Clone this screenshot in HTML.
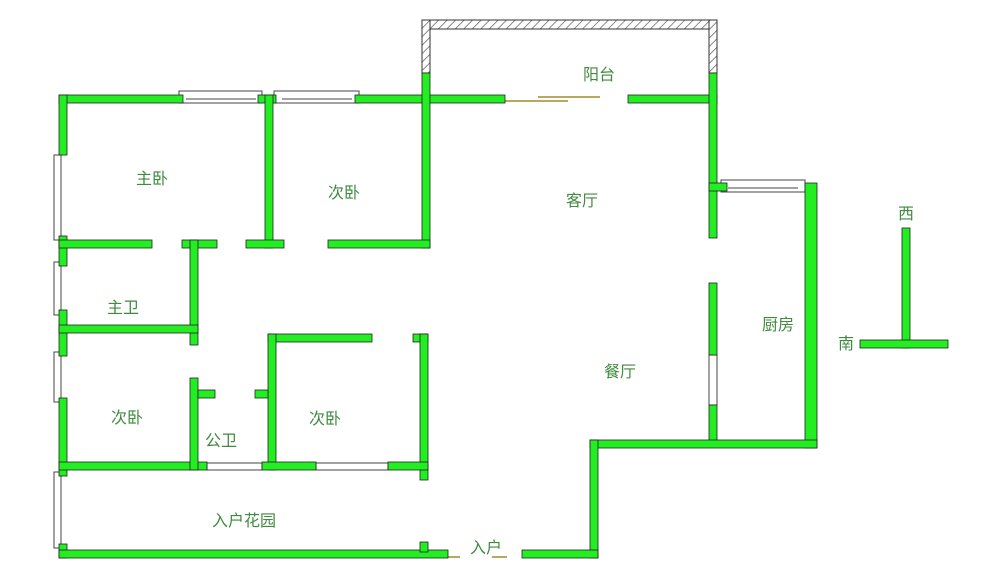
<!DOCTYPE html>
<html><head><meta charset="utf-8"><style>
html,body{margin:0;padding:0;background:#fff;width:1000px;height:580px;overflow:hidden}
text{font-family:"Liberation Sans","Noto Sans CJK SC",sans-serif;font-size:16px;fill:#3f8a3f}
</style></head><body>
<svg width="1000" height="580" viewBox="0 0 1000 580" xmlns="http://www.w3.org/2000/svg">
<defs>
<pattern id="h" width="6" height="6" patternUnits="userSpaceOnUse" patternTransform="rotate(45)">
<rect width="6" height="6" fill="#fff"/><line x1="0" y1="0" x2="0" y2="6" stroke="#666" stroke-width="1.5"/></pattern>
</defs>
<!-- balcony hatch -->
<g stroke="#333" stroke-width="1">
<rect x="422" y="20" width="295" height="9" fill="url(#h)"/>
<rect x="422" y="20" width="8" height="53" fill="url(#h)"/>
<rect x="709" y="20" width="8" height="53" fill="url(#h)"/>
</g>
<!-- windows -->
<g fill="#fff" stroke="#444" stroke-width="1">
<rect x="179" y="91" width="83" height="12"/><line x1="186" y1="99" x2="256" y2="99"/>
<rect x="274" y="91" width="85" height="12"/><line x1="282" y1="99" x2="352" y2="99"/>
<rect x="721" y="180" width="84" height="12"/><line x1="728" y1="188" x2="798" y2="188"/>
<rect x="54" y="155" width="7" height="85"/><rect x="54" y="262" width="7" height="53"/>
<rect x="54" y="352" width="7" height="50"/><rect x="54" y="472" width="7" height="76"/>
<rect x="207" y="463" width="55" height="7"/><rect x="316" y="463" width="72" height="7"/>
<rect x="709" y="355" width="8" height="50"/>
</g>
<!-- sliding door -->
<g stroke="#b8a860" stroke-width="2">
<line x1="505" y1="101" x2="568" y2="101"/><line x1="538" y1="97" x2="600" y2="97"/>
<line x1="448" y1="557" x2="460" y2="557"/><line x1="425" y1="557" x2="433" y2="557"/>
<line x1="492" y1="557" x2="507" y2="557"/>
</g>
<!-- walls -->
<g fill="#22ee22" stroke="#222" stroke-width="0.8">
<rect x="59" y="95" width="124" height="8"/>
<rect x="59" y="95" width="8" height="60"/>
<rect x="59" y="236" width="8" height="30"/>
<rect x="59" y="310" width="8" height="46"/>
<rect x="59" y="398" width="8" height="78"/>
<rect x="59" y="544" width="8" height="14"/>
<rect x="258" y="95" width="18" height="8"/>
<rect x="355" y="95" width="150" height="8"/>
<rect x="628" y="95" width="89" height="8"/>
<rect x="422" y="73" width="8" height="175"/>
<rect x="709" y="73" width="8" height="165"/>
<rect x="265" y="95" width="8" height="153"/>
<rect x="59" y="240" width="93" height="8"/>
<rect x="182" y="240" width="35" height="8"/>
<rect x="246" y="240" width="38" height="8"/>
<rect x="328" y="240" width="102" height="8"/>
<rect x="190" y="240" width="8" height="105"/>
<rect x="59" y="325" width="139" height="8"/>
<rect x="709" y="183" width="18" height="8"/>
<rect x="805" y="183" width="12" height="265"/>
<rect x="709" y="283" width="8" height="72"/>
<rect x="709" y="405" width="8" height="40"/>
<rect x="590" y="440" width="227" height="8"/>
<rect x="590" y="440" width="8" height="118"/>
<rect x="59" y="550" width="389" height="8"/>
<rect x="522" y="550" width="76" height="8"/>
<rect x="420" y="542" width="8" height="10"/>
<rect x="268" y="334" width="104" height="8"/>
<rect x="413" y="334" width="15" height="8"/>
<rect x="420" y="334" width="8" height="146"/>
<rect x="268" y="334" width="8" height="136"/>
<rect x="59" y="462" width="148" height="8"/>
<rect x="262" y="462" width="54" height="8"/>
<rect x="388" y="462" width="40" height="8"/>
<rect x="190" y="378" width="8" height="92"/>
<rect x="198" y="390" width="17" height="8"/>
<rect x="255" y="390" width="13" height="8"/>
<rect x="902" y="228" width="8" height="120"/>
<rect x="860" y="340" width="88" height="8"/>
</g>
<text x="136" y="184">主卧</text>
<text x="328" y="198">次卧</text>
<text x="583" y="80">阳台</text>
<text x="566" y="206">客厅</text>
<text x="762" y="330">厨房</text>
<text x="107" y="313">主卫</text>
<text x="604" y="377">餐厅</text>
<text x="111" y="423">次卧</text>
<text x="309" y="424">次卧</text>
<text x="205" y="446">公卫</text>
<text x="212" y="526">入户花园</text>
<text x="470" y="553">入户</text>
<text x="898" y="219">西</text>
<text x="838" y="349">南</text>
</svg>
</body></html>
